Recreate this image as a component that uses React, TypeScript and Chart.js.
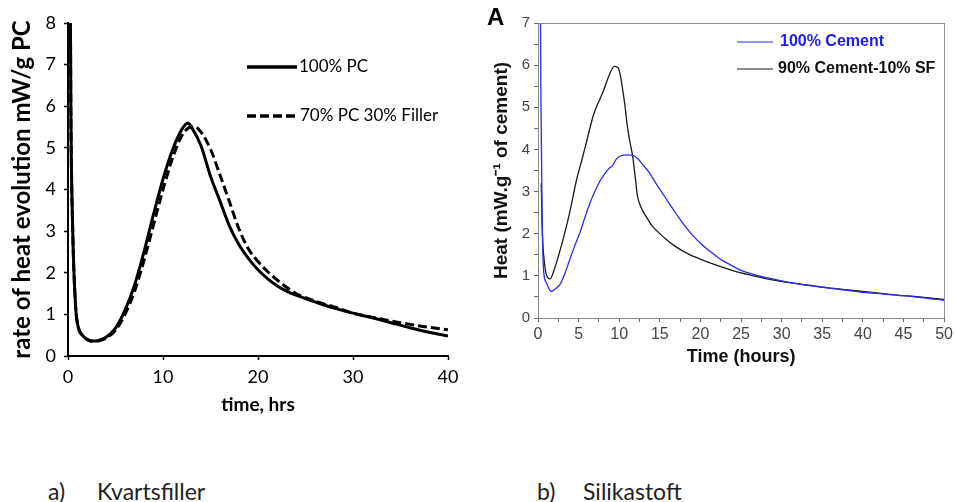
import React, { useEffect, useRef } from 'react';
import { Chart, registerables } from 'chart.js';

Chart.register(...registerables);

// ---- Chart a) Kvartsfiller ----
const pcTime = [0.25, 0.3, 0.5, 0.8, 1.05, 1.5, 2, 2.5, 3, 3.5, 4, 5, 6, 7, 8, 9, 10, 11, 12, 12.6, 13, 14, 15, 16, 17, 18, 19, 20, 21, 22, 23, 24, 26, 28, 30, 32, 34, 36, 38, 40];
const pcHeat = [8.5, 6, 3, 1.2, 0.72, 0.5, 0.4, 0.36, 0.36, 0.4, 0.45, 0.67, 1.1, 1.7, 2.5, 3.4, 4.25, 4.95, 5.45, 5.6, 5.5, 5.05, 4.32, 3.72, 3.12, 2.67, 2.34, 2.07, 1.86, 1.69, 1.56, 1.46, 1.3, 1.15, 1.03, 0.92, 0.8, 0.68, 0.57, 0.48];
const fillerTime = [0.25, 0.3, 0.5, 0.8, 1.05, 1.5, 2, 2.5, 3, 3.5, 4, 5, 6, 7, 8, 9, 10, 11, 12, 13, 13.4, 14, 15, 16, 17, 18, 19, 20, 21, 22, 23, 24, 26, 28, 30, 32, 34, 36, 38, 40];
const fillerHeat = [8.5, 6, 3, 1.2, 0.72, 0.5, 0.4, 0.36, 0.36, 0.38, 0.43, 0.62, 1.0, 1.55, 2.3, 3.15, 4.0, 4.75, 5.3, 5.5, 5.5, 5.38, 4.97, 4.35, 3.7, 3.05, 2.57, 2.27, 2.03, 1.83, 1.65, 1.5, 1.32, 1.18, 1.03, 0.93, 0.84, 0.76, 0.69, 0.63];
const aLabels = ['100% PC', '70% PC 30% Filler'];
const aXTitle = 'time, hrs';
const aYTitle = 'rate of heat evolution mW/g PC';

// ---- Chart b) Silikastoft ----
const cementTime = [0.3, 0.35, 0.5, 0.7, 1.0, 1.6, 2.2, 2.7, 3.3, 3.9, 4.5, 5.15, 5.8, 6.4, 7, 7.6, 8.2, 8.8, 9.2, 9.6, 10.2, 11, 11.65, 12.3, 12.9, 13.7, 14.5, 15.3, 16.1, 17.1, 18.1, 19.1, 20.2, 21.4, 22.6, 23.8, 25, 26.6, 28.3, 30, 32.3, 35, 37.5, 40, 42.5, 45, 47.5, 50];
const cementHeat = [7.3, 5.5, 2.5, 1.1, 0.85, 0.63, 0.7, 0.79, 1.05, 1.38, 1.7, 2.02, 2.4, 2.73, 3.0, 3.24, 3.42, 3.56, 3.62, 3.76, 3.85, 3.87, 3.86, 3.78, 3.64, 3.45, 3.2, 2.97, 2.73, 2.45, 2.18, 1.95, 1.74, 1.55, 1.38, 1.25, 1.13, 1.03, 0.95, 0.88, 0.8, 0.73, 0.67, 0.61, 0.57, 0.53, 0.48, 0.42];
const sfTime = [0.4, 0.5, 0.6, 0.8, 1.0, 1.5, 2.0, 2.5, 3.2, 3.9, 4.75, 5.4, 6, 6.8, 7.4, 8, 8.8, 9.4, 9.8, 10.1, 10.4, 10.7, 11, 11.3, 11.65, 12, 12.25, 12.7, 13.3, 14, 14.9, 15.8, 16.9, 18.5, 20.2, 22.5, 25, 27.5, 29.9, 32.5, 34.8, 37.5, 40, 42.5, 45, 47.5, 50];
const sfHeat = [3.2, 2.3, 1.75, 1.3, 1.05, 0.93, 1.15, 1.46, 1.95, 2.5, 3.28, 3.75, 4.2, 4.8, 5.1, 5.36, 5.78, 5.97, 5.95, 5.8, 5.45, 5.05, 4.55, 4.2, 3.84, 3.3, 2.89, 2.62, 2.41, 2.2, 2.02, 1.86, 1.7, 1.52, 1.38, 1.22, 1.07, 0.96, 0.87, 0.8, 0.74, 0.68, 0.63, 0.58, 0.53, 0.49, 0.44];
const bLabels = ['100% Cement', '90% Cement-10% SF'];
const bXTitle = 'Time (hours)';
const bYTitle = 'Heat (mW.g⁻¹ of cement)';

const toPoints = (xs: number[], ys: number[]) => xs.map((x, i) => ({ x, y: ys[i] }));

type LegendItem = { x0: number; x1: number; y: number; tx: number; color: string; width: number };

const makeLegend = (items: LegendItem[], font: string) => ({
  id: 'inlineLegend',
  afterDatasetsDraw(chart: any) {
    const ctx = chart.ctx;
    ctx.save();
    chart.data.datasets.forEach((ds: any, i: number) => {
      const it = items[i];
      if (!it) return;
      ctx.beginPath();
      ctx.setLineDash(ds.borderDash || []);
      ctx.strokeStyle = ds.borderColor;
      ctx.lineWidth = it.width;
      ctx.moveTo(it.x0, it.y);
      ctx.lineTo(it.x1, it.y);
      ctx.stroke();
      ctx.setLineDash([]);
      ctx.fillStyle = it.color;
      ctx.font = font;
      ctx.textBaseline = 'middle';
      ctx.textAlign = 'left';
      ctx.fillText(ds.label, it.tx, it.y);
    });
    ctx.restore();
  },
});

const boxPlugin = {
  id: 'boxFrame',
  afterDraw(chart: any) {
    const { ctx, chartArea } = chart;
    ctx.save();
    ctx.strokeStyle = '#8a8a8a';
    ctx.lineWidth = 1;
    ctx.strokeRect(chartArea.left + 0.5, chartArea.top + 0.5, chartArea.right - chartArea.left, chartArea.bottom - chartArea.top);
    ctx.restore();
  },
};

function ChartA() {
  const ref = useRef<HTMLCanvasElement>(null);
  useEffect(() => {
    const chart = new Chart(ref.current!, {
      type: 'line',
      data: {
        datasets: [
          { label: aLabels[0], data: toPoints(pcTime, pcHeat), borderColor: '#000', borderWidth: 3, pointRadius: 0, cubicInterpolationMode: 'monotone', fill: false },
          { label: aLabels[1], data: toPoints(fillerTime, fillerHeat), borderColor: '#000', borderWidth: 3, borderDash: [9, 4], pointRadius: 0, cubicInterpolationMode: 'monotone', fill: false },
        ],
      },
      options: {
        responsive: false,
        animation: false,
        layout: { padding: { left: 0, right: 22, top: 23, bottom: 0 } },
        plugins: { legend: { display: false }, tooltip: { enabled: false } },
        scales: {
          x: {
            type: 'linear', min: 0, max: 40,
            afterFit: (s: any) => { s.height = 64; },
            ticks: { stepSize: 10, color: '#000', font: { family: 'Lato', size: 18 }, padding: 6, maxRotation: 0 },
            grid: { drawOnChartArea: false, drawTicks: true, tickLength: 4, color: '#000', tickWidth: 1.5 },
            border: { display: true, color: '#000', width: 2 },
            title: { display: true, text: aXTitle, color: '#000', font: { family: 'Lato', size: 19, weight: 'bold' }, padding: { top: 0, bottom: 4 } },
          },
          y: {
            type: 'linear', min: 0, max: 8,
            afterFit: (s: any) => { s.width = 68; },
            ticks: { stepSize: 1, color: '#000', font: { family: 'Lato', size: 18 }, padding: 8 },
            grid: { drawOnChartArea: false, drawTicks: true, tickLength: 4, color: '#000', tickWidth: 1.5 },
            border: { display: true, color: '#000', width: 2 },
            title: { display: true, text: aYTitle, color: '#000', font: { family: 'Lato', size: 24, weight: 'bold' }, padding: { top: 8, bottom: 0 } },
          },
        },
      },
      plugins: [makeLegend([
        { x0: 247, x1: 297, y: 67, tx: 299, color: '#000', width: 3.5 },
        { x0: 247, x1: 298, y: 116, tx: 300, color: '#000', width: 3.5 },
      ], '17px Lato')],
    } as any);
    return () => chart.destroy();
  }, []);
  return <canvas ref={ref} width={470} height={420} style={{ position: 'absolute', left: 0, top: 0, display: 'block' }} />;
}

function ChartB() {
  const ref = useRef<HTMLCanvasElement>(null);
  useEffect(() => {
    const chart = new Chart(ref.current!, {
      type: 'line',
      data: {
        datasets: [
          { label: bLabels[0], data: toPoints(cementTime, cementHeat), borderColor: '#2b2bf0', borderWidth: 1.3, pointRadius: 0, cubicInterpolationMode: 'monotone', fill: false },
          { label: bLabels[1], data: toPoints(sfTime, sfHeat), borderColor: '#1a1a1a', borderWidth: 1.3, pointRadius: 0, cubicInterpolationMode: 'monotone', fill: false },
        ],
      },
      options: {
        responsive: false,
        animation: false,
        layout: { padding: { left: 0, right: 8, top: 23, bottom: 0 } },
        plugins: { legend: { display: false }, tooltip: { enabled: false } },
        scales: {
          x: {
            type: 'linear', min: 0, max: 50,
            afterFit: (s: any) => { s.height = 62; },
            ticks: { stepSize: 2.5, autoSkip: false, color: '#444', font: { family: 'Liberation Sans', size: 16 }, padding: 3, maxRotation: 0,
              callback: (v: any) => (Number(v) % 5 === 0 ? String(v) : '') },
            grid: { drawOnChartArea: false, drawTicks: true, tickLength: 4, color: '#666' },
            border: { display: true, color: '#8a8a8a', width: 1 },
            title: { display: true, text: bXTitle, color: '#111', font: { family: 'Liberation Sans', size: 18, weight: 'bold' }, padding: { top: 0, bottom: 12 } },
          },
          y: {
            type: 'linear', min: 0, max: 7,
            afterFit: (s: any) => { s.width = 68; },
            ticks: { stepSize: 0.5, autoSkip: false, color: '#444', font: { family: 'Liberation Sans', size: 15 }, padding: 4,
              callback: (v: any) => (Number(v) % 1 === 0 ? String(v) : '') },
            grid: { drawOnChartArea: false, drawTicks: true, tickLength: 4, color: '#666' },
            border: { display: true, color: '#8a8a8a', width: 1 },
            title: { display: true, text: bYTitle, color: '#111', font: { family: 'Liberation Sans', size: 19, weight: 'bold' }, padding: { top: 20, bottom: 0 } },
          },
        },
      },
      plugins: [boxPlugin, makeLegend([
        { x0: 267, x1: 303, y: 42, tx: 310, color: '#1c1cf0', width: 1 },
        { x0: 267, x1: 303, y: 69, tx: 308, color: '#111', width: 1 },
      ], 'bold 16px "Liberation Sans"')],
    } as any);
    return () => chart.destroy();
  }, []);
  return <canvas ref={ref} width={486} height={380} style={{ position: 'absolute', left: 470, top: 0, display: 'block' }} />;
}

const caption: React.CSSProperties = { position: 'absolute', top: 480, fontFamily: 'Lato', fontSize: 23, lineHeight: '23px', color: '#222', whiteSpace: 'nowrap' };

export default function App() {
  return (
    <div style={{ position: 'fixed', left: 0, top: 0, width: 956, height: 502, background: '#fff', overflow: 'hidden' }}>
      <ChartA />
      <ChartB />
      <div style={{ position: 'absolute', left: 487, top: 5, fontFamily: 'Liberation Sans', fontWeight: 'bold', fontSize: 24, lineHeight: '24px', color: '#000' }}>A</div>
      <div style={{ ...caption, left: 48 }}>a)</div>
      <div style={{ ...caption, left: 97 }}>Kvartsfiller</div>
      <div style={{ ...caption, left: 537 }}>b)</div>
      <div style={{ ...caption, left: 583 }}>Silikastoft</div>
    </div>
  );
}
